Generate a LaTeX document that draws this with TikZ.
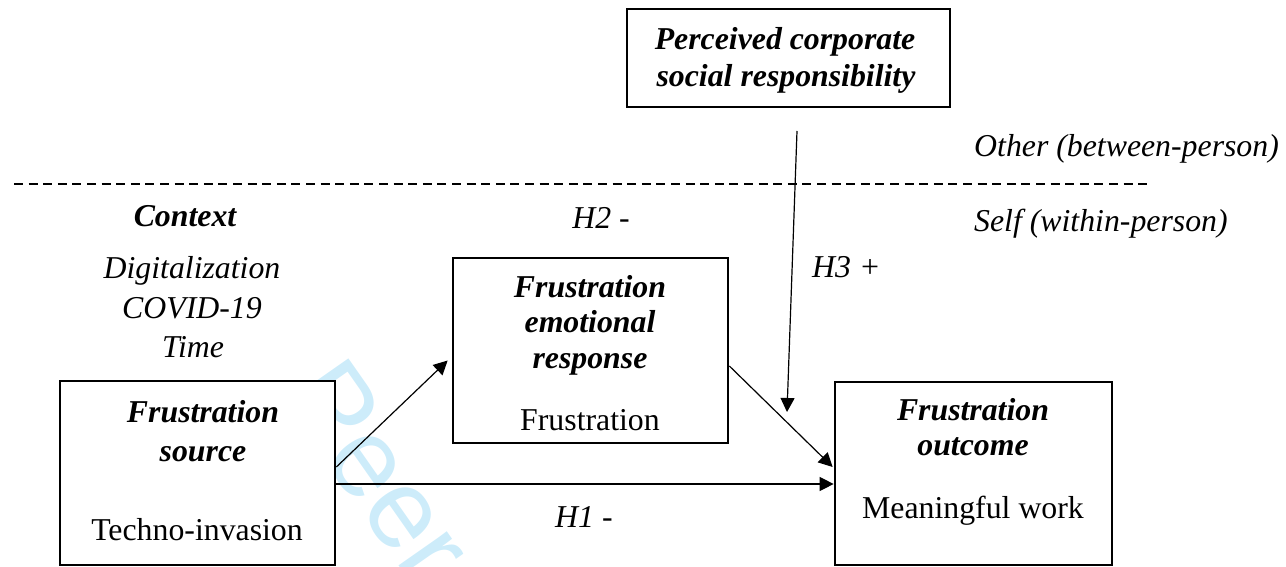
\documentclass[tikz,border=0pt]{standalone}
\usepackage{fontspec}
\setmainfont{Liberation Serif}
\newfontfamily\wmfont{Liberation Sans}
\usetikzlibrary{arrows.meta}
\definecolor{wmcol}{RGB}{205,236,250}
\tikzset{
  box/.style={draw=black, line width=2.7pt, fill=white, inner sep=0pt},
  arr/.style={line width=1.2pt, -{Triangle[length=14pt,width=14pt]}},
  lbl/.style={anchor=base, inner sep=0pt},
  lblw/.style={anchor=base west, inner sep=0pt},
  it/.style={font=\fontsize{31.8}{38}\selectfont\itshape},
  head/.style={anchor=base, inner sep=0pt, font=\fontsize{31.8}{38}\selectfont\bfseries\itshape},
  sep/.style={line width=1.4pt, dash pattern=on 9pt off 5.6pt},
}
\begin{document}
\begin{tikzpicture}[x=1pt,y=-1pt,font=\fontsize{31.8}{38}\selectfont]
\useasboundingbox (0,0) rectangle (1286,567);
\clip (0,0) rectangle (1286,567);
% watermark
\node[rotate=-55, text=wmcol, inner sep=0pt, font=\fontsize{112}{112}\selectfont\wmfont] (wm) at (379,471) {Peer};
% boxes
\node[box, minimum width=323pt, minimum height=98pt] (csr) at (788.5,58) {};
\node[box, minimum width=275pt, minimum height=184pt] (src) at (197.5,473) {};
\node[box, minimum width=275pt, minimum height=185pt] (emo) at (590.5,350.5) {};
\node[box, minimum width=277pt, minimum height=183pt] (out) at (973.5,473.5) {};
% box texts
\node[head] (csr1) at (785,50) {Perceived corporate};
\node[head] (csr2) at (786,87) {social responsibility};
\node[head] (src1) at (203,422) {Frustration};
\node[head] (src2) at (203,461) {source};
\node[lbl] (src3) at (197,540) {Techno-invasion};
\node[head] (emo1) at (590,297) {Frustration};
\node[head] (emo2) at (590,332) {emotional};
\node[head] (emo3) at (590,368) {response};
\node[lbl] (emo4) at (590,430) {Frustration};
\node[head] (out1) at (973,420) {Frustration};
\node[head] (out2) at (973,455) {outcome};
\node[lbl] (out3) at (973,518) {Meaningful work};
% context
\node[head] (ctx) at (185,226) {Context};
\node[lbl, it] (ctx1) at (192,278) {Digitalization};
\node[lbl, it] (ctx2) at (192,318) {COVID-19};
\node[lbl, it] (ctx3) at (193,357) {Time};
% levels
\node[lblw, it] (oth) at (974,157) {Other (between-person)};
\node[lblw, it] (slf) at (974,231) {Self (within-person)};
\coordinate (d1) at (14,184);
\coordinate (d2) at (1150,184);
\draw[sep] (d1) -- (d2);
% hypotheses labels
\node[lbl, it] (h2) at (601,228) {H2 -};
\node[lblw, it] (h3) at (812,277) {H3 +};
\node[lblw, it] (h1) at (555,527) {H1 -};
% arrows
\draw[arr] ([yshift=6pt]src.east) -- ([xshift=-4pt,yshift=-10pt]emo.west);
\draw[arr] ([yshift=-11pt]src.east) -- ([yshift=-10.5pt]out.west);
\draw[arr] ([yshift=-15.5pt]emo.east) -- ([xshift=-1pt,yshift=6.5pt]out.west);
\coordinate (m1) at (797,131);
\coordinate (m2) at (787,412);
\draw[arr] (m1) -- (m2);
\end{tikzpicture}
\end{document}
